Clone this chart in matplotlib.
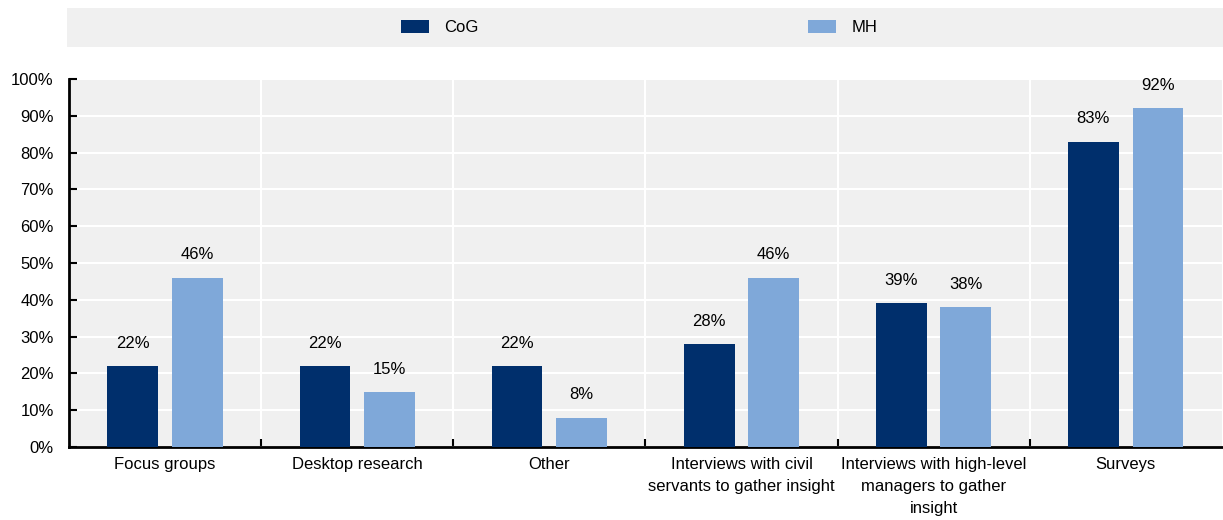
import matplotlib.pyplot as plt
import numpy as np
from matplotlib import font_manager

# categories and shares (%) for the two groups
categories = ["Focus groups", "Desktop research", "Other",
              "Interviews with civil\nservants to gather insight",
              "Interviews with high-level\nmanagers to gather\ninsight",
              "Surveys"]
cog = [22, 22, 22, 28, 39, 83]
mh = [46, 15, 8, 46, 38, 92]
series_names = ["CoG", "MH"]

names = {f.name for f in font_manager.fontManager.ttflist}
font = "Liberation Sans Narrow" if "Liberation Sans Narrow" in names else "Liberation Sans"
plt.rcParams["font.family"] = [font, "DejaVu Sans"]
fs = 14 if font == "Liberation Sans Narrow" else 12
plt.rcParams["font.size"] = fs

dark = "#002F6C"
light = "#7FA8D9"
panel = "#F0F0F0"

fig = plt.figure(figsize=(12.23, 5.2), dpi=100)
ax = fig.add_axes([0.0564, 0.1404, 0.9426, 0.7076])
ax.set_facecolor(panel)

x = np.arange(len(categories))
w = 0.264
off = 0.168
b1 = ax.bar(x - off, cog, w, color=dark, zorder=3, label=series_names[0])
b2 = ax.bar(x + off, mh, w, color=light, zorder=3, label=series_names[1])

for bars, vals in ((b1, cog), (b2, mh)):
    for rect, v in zip(bars, vals):
        ax.annotate(f"{v}%", (rect.get_x() + rect.get_width() / 2, v),
                    xytext=(0, 11), textcoords="offset points",
                    ha="center", va="bottom", fontsize=fs)

ax.set_xlim(-0.5, len(categories) - 0.5)
ax.set_ylim(0, 100)
ax.set_yticks(np.arange(0, 101, 10))
ax.set_yticklabels([f"{t}%" for t in range(0, 101, 10)])
ax.set_xticks(x)
ax.set_xticklabels(categories, linespacing=1.6, va="top")
ax.set_xticks(np.arange(0.5, len(categories) - 0.5, 1), minor=True)

ax.tick_params(axis="x", which="major", length=0, pad=7)
ax.tick_params(axis="x", which="minor", direction="in", length=6, width=1.5)
ax.tick_params(axis="y", direction="in", length=6, width=1.5, pad=11)

ax.grid(axis="y", color="white", linewidth=1.5, zorder=0)
ax.grid(axis="x", which="minor", color="white", linewidth=1.5, zorder=0)
ax.set_axisbelow(True)

for s in ("top", "right"):
    ax.spines[s].set_visible(False)
for s in ("left", "bottom"):
    ax.spines[s].set_linewidth(2)

# legend strip across the top
lax = fig.add_axes([0.0548, 0.9096, 0.9452, 0.075])
lax.set_facecolor(panel)
lax.set_xticks([])
lax.set_yticks([])
for s in lax.spines.values():
    s.set_visible(False)
lax.legend(handles=[b1, b2], loc="center", ncol=2, frameon=False,
           handlelength=28 / (fs * 1.389), handleheight=14 / (fs * 1.389),
           handletextpad=15 / (fs * 1.389), columnspacing=330 / (fs * 1.389),
           fontsize=fs, bbox_to_anchor=(0.495, 0.5))

fig.savefig("out.png", dpi=100, facecolor="white")
